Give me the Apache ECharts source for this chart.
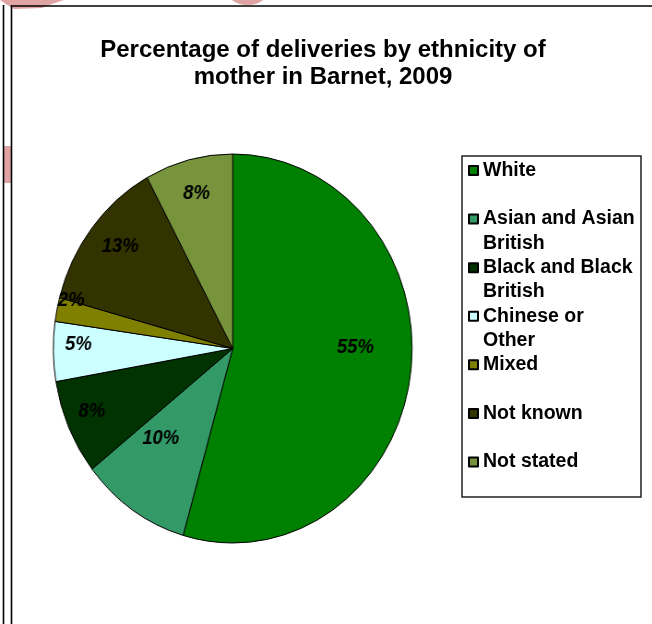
<!DOCTYPE html>
<html><head><meta charset="utf-8">
<script src="https://cdn.jsdelivr.net/npm/echarts@6/dist/echarts.min.js"></script>
<style>
html,body{margin:0;padding:0;background:#fff;width:652px;height:624px;overflow:hidden;}
#pie{position:absolute;left:0;top:0;width:707px;height:624px;transform:scaleX(0.9224);transform-origin:0 0;}
#main{position:absolute;left:0;top:0;width:652px;height:624px;}
</style></head><body>
<div id="pie"></div><div id="main"></div>
<script>
// ---- data ----
const categories = ['White', 'Asian and Asian British', 'Black and Black British', 'Chinese or Other', 'Mixed', 'Not known', 'Not stated'];
const percentages = [55, 10, 8, 5, 2, 13, 8];
const legendLabels = ['White', 'Asian and Asian\nBritish', 'Black and Black\nBritish', 'Chinese or\nOther', 'Mixed', 'Not known', 'Not stated'];
const titleLines = ['Percentage of deliveries by ethnicity of', 'mother in Barnet, 2009'];

// ---- styles ----
const colors = ['#008000', '#339966', '#003300', '#CCFFFF', '#808000', '#333300', '#77933C'];
const labelRadiusFrac = [0.69, 0.64, 0.86, 0.86, 0.93, 0.80, 0.82];
const labelNudgeY = [-20, -13, -5, -7, -12, -6, 0];
const labelNudgeX = [0, -8, 0, 0, 2, 0, 0];
const FONT = "'Liberation Sans', Arial, sans-serif";
const SX = 0.9224;
const PINK = '#E0A3A3';

const pieData = categories.map((c, i) => ({ name: c, value: percentages[i], itemStyle: { color: colors[i] } }));

// ---- pie chart (horizontally compressed to match the elliptical original) ----
const chartB = echarts.init(document.getElementById('pie'), null, { renderer: 'canvas' });
chartB.setOption({
  animation: false,
  series: [{
    type: 'pie',
    center: [232.7 / SX, 348.5],
    radius: 194.5,
    startAngle: 90,
    clockwise: true,
    data: pieData,
    itemStyle: { borderColor: '#000', borderWidth: 1 },
    emphasis: { disabled: true },
    label: {
      show: true,
      position: 'inside',
      formatter: p => p.value + '%',
      fontFamily: FONT,
      fontStyle: 'italic',
      fontWeight: 'bold',
      fontSize: 20,
      color: '#000',
      textBorderWidth: 0
    },
    labelLine: { show: false },
    labelLayout: function (params) {
      try {
        const i = params.dataIndex;
        const data = chartB.getModel().getSeriesByIndex(0).getData();
        const l = data.getItemLayout(i);
        const mid = (l.startAngle + l.endAngle) / 2;
        const rr = l.r * labelRadiusFrac[i];
        return {
          x: l.cx + rr * Math.cos(mid) + labelNudgeX[i] / SX,
          y: l.cy + rr * Math.sin(mid) + labelNudgeY[i],
          align: 'center', verticalAlign: 'middle'
        };
      } catch (e) { return {}; }
    }
  }]
});

// ---- title, legend, frame ----
const LH = 24.3;
// each legend entry is laid out as 3 lines (blank / first / second) so the
// marker sits beside the first text line, as in the original
const legendText = legendLabels.map(s => {
  const lines = s.split('\n');
  while (lines.length < 2) lines.push(' ');
  return ' \n' + lines.join('\n');
});
const chartA = echarts.init(document.getElementById('main'), null, { renderer: 'canvas' });
chartA.setOption({
  animation: false,
  backgroundColor: 'transparent',
  title: {
    text: titleLines.join('\n'),
    left: 323,
    top: 37.5,
    textAlign: 'center',
    padding: 0,
    textStyle: { fontFamily: FONT, fontWeight: 'bold', fontSize: 24, lineHeight: 26.7, color: '#000' }
  },
  legend: {
    orient: 'vertical',
    left: 468,
    top: 134,
    padding: 0,
    itemGap: -LH,
    itemWidth: 9,
    itemHeight: 9,
    icon: 'rect',
    selectedMode: false,
    data: categories,
    formatter: name => legendText[categories.indexOf(name)],
    textStyle: { fontFamily: FONT, fontWeight: 'bold', fontSize: 19.5, lineHeight: LH, color: '#000' }
  },
  graphic: [
    { type: 'rect', shape: { x: 462, y: 156, width: 179, height: 341 }, style: { fill: 'none', stroke: '#222', lineWidth: 1.5 }, z: 10 },
    { type: 'polygon', shape: { points: [[0, 0], [64, 0], [52, 4], [42, 8], [14, 9], [6, 4]] }, style: { fill: PINK }, z: 1 },
    { type: 'ellipse', shape: { cx: 247.5, cy: -10, rx: 21, ry: 15 }, style: { fill: PINK }, z: 1 },
    { type: 'rect', shape: { x: 4, y: 146, width: 7.5, height: 37 }, style: { fill: PINK }, z: 1 },
    { type: 'line', shape: { x1: 3.5, y1: 5, x2: 3.5, y2: 624 }, style: { stroke: '#000', lineWidth: 1.6 }, z: 5 },
    { type: 'line', shape: { x1: 11.5, y1: 5.5, x2: 11.5, y2: 624 }, style: { stroke: '#000', lineWidth: 1.6 }, z: 5 },
    { type: 'line', shape: { x1: 10.7, y1: 6, x2: 652, y2: 6 }, style: { stroke: '#000', lineWidth: 1.6 }, z: 5 }
  ],
  series: [{
    type: 'pie',
    center: [-500, -500],
    radius: 0,
    silent: true,
    data: pieData,
    itemStyle: { borderColor: '#000', borderWidth: 1 },
    label: { show: false },
    labelLine: { show: false },
    emphasis: { disabled: true }
  }]
});
</script>
</body></html>
